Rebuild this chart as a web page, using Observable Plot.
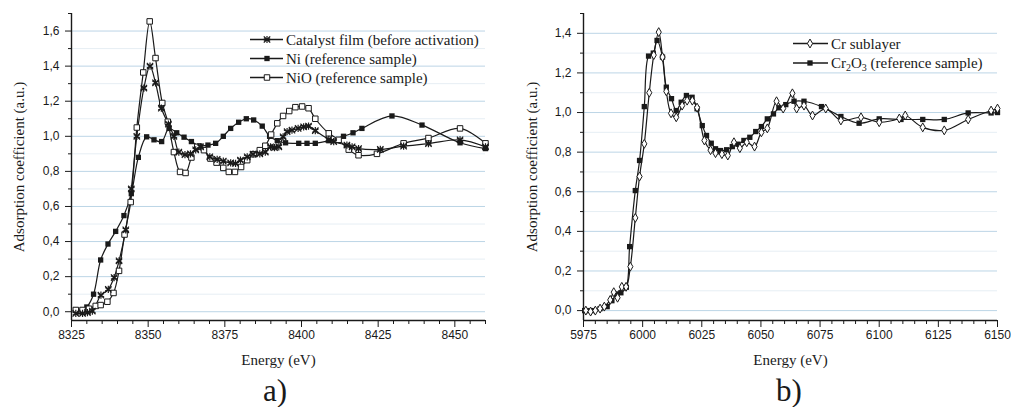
<!DOCTYPE html>
<html><head><meta charset="utf-8">
<script src="https://cdn.jsdelivr.net/npm/d3@7"></script>
<script src="https://cdn.jsdelivr.net/npm/@observablehq/plot@0.6"></script>
<style>
body{margin:0;background:#fff;}
#wrap{position:relative;width:1011px;height:407px;overflow:hidden;background:#fff;}
.panel{position:absolute;top:0;}
#overlay{position:absolute;left:0;top:0;pointer-events:none;}
</style></head><body><div id="wrap"><div id="pa" class="panel" style="left:0px"></div><div id="pb" class="panel" style="left:505px"></div></div>
<script>
// ---------- Panel a) Ni K-edge ----------
const catX = [8326.4, 8328.6, 8330.2, 8331.8, 8334.6, 8337.0, 8338.9, 8340.5, 8342.7, 8344.5, 8346.3, 8348.6, 8350.6, 8352.4, 8354.3, 8356.6, 8358.4, 8360.0, 8362.0, 8363.8, 8365.5, 8367.1, 8370.1, 8372.5, 8374.5, 8376.9, 8378.5, 8380.1, 8382.3, 8384.2, 8386.4, 8388.2, 8389.9, 8391.2, 8392.6, 8394.0, 8395.3, 8396.9, 8398.9, 8400.7, 8402.3, 8404.5, 8408.9, 8410.5, 8414.8, 8416.5, 8418.6, 8425.7, 8433.3, 8441.4, 8451.7, 8460];
const catY = [-0.01, -0.01, -0.005, 0.004, 0.094, 0.128, 0.195, 0.29, 0.467, 0.70, 1.0, 1.275, 1.40, 1.305, 1.16, 1.07, 1.0, 0.91, 0.895, 0.90, 0.923, 0.94, 0.883, 0.868, 0.858, 0.848, 0.845, 0.864, 0.883, 0.898, 0.90, 0.91, 0.94, 0.935, 0.94, 0.997, 1.026, 1.035, 1.045, 1.054, 1.058, 1.032, 0.982, 0.969, 0.95, 0.94, 0.93, 0.925, 0.944, 0.958, 0.98, 0.94];

const niX = [8326.4, 8328.6, 8330.0, 8332.2, 8334.5, 8336.9, 8339.4, 8342.1, 8344.5, 8346.8, 8349.5, 8351.9, 8354.4, 8356.8, 8359.3, 8361.7, 8364.1, 8366.9, 8369.5, 8372.0, 8374.5, 8376.9, 8379.5, 8382.0, 8384.4, 8387.2, 8389.6, 8392.1, 8394.8, 8399.1, 8401.8, 8404.5, 8408.9, 8413.7, 8416.8, 8419.7, 8429.5, 8439.3, 8451.7, 8460];
const niY = [0.01, 0.01, 0.027, 0.10, 0.295, 0.386, 0.458, 0.548, 0.673, 0.88, 0.997, 0.98, 0.97, 1.045, 1.02, 0.995, 0.97, 0.945, 0.95, 0.96, 1.0, 1.045, 1.08, 1.10, 1.093, 1.058, 1.0, 0.975, 0.963, 0.96, 0.96, 0.96, 0.975, 1.0, 1.02, 1.045, 1.116, 1.064, 0.963, 0.93];

const nioX = [8326.4, 8328.6, 8330.7, 8332.9, 8334.5, 8336.7, 8338.7, 8340.5, 8342.3, 8344.3, 8346.3, 8348.4, 8350.5, 8352.4, 8354.6, 8356.4, 8358.4, 8360.4, 8362.2, 8364.1, 8366.0, 8368.2, 8370.3, 8372.3, 8374.5, 8376.3, 8378.3, 8380.3, 8382.3, 8384.4, 8386.4, 8388.2, 8390.1, 8392.1, 8394.0, 8396.0, 8398.0, 8400.2, 8402.3, 8404.5, 8408.9, 8412.1, 8415.4, 8418.6, 8424.6, 8433.3, 8441.4, 8451.7, 8460];
const nioY = [0.01, 0.01, 0.017, 0.033, 0.038, 0.057, 0.107, 0.233, 0.44, 0.625, 1.05, 1.364, 1.655, 1.446, 1.19, 1.083, 0.91, 0.797, 0.791, 0.879, 0.94, 0.921, 0.873, 0.85, 0.82, 0.797, 0.797, 0.825, 0.864, 0.898, 0.921, 0.946, 1.01, 1.074, 1.116, 1.144, 1.166, 1.17, 1.16, 1.10, 1.017, 0.98, 0.924, 0.892, 0.90, 0.96, 0.99, 1.045, 0.96];

const xTicksA = [8325, 8350, 8375, 8400, 8425, 8450];
const xMinorA = [8330, 8335, 8340, 8345, 8355, 8360, 8365, 8370, 8380, 8385, 8390, 8395, 8405, 8410, 8415, 8420, 8430, 8435, 8440, 8445, 8455, 8460];
const yTicksA = [0.0, 0.2, 0.4, 0.6, 0.8, 1.0, 1.2, 1.4, 1.6];
const yMinorA = [0.1, 0.3, 0.5, 0.7, 0.9, 1.1, 1.3, 1.5, 1.7];
const seriesA = ["Catalyst film (before activation)", "Ni (reference sample)", "NiO (reference sample)"];

// ---------- Panel b) Cr K-edge ----------
const crX = [5976.0, 5978.0, 5980.0, 5982.0, 5983.8, 5986.3, 5987.8, 5989.4, 5991.2, 5993.0, 5994.8, 5996.9, 5998.7, 6000.7, 6002.8, 6004.7, 6006.8, 6008.4, 6010.0, 6012.0, 6014.2, 6016.7, 6018.8, 6021.0, 6023.0, 6026.1, 6028.7, 6030.8, 6033.5, 6036.0, 6038.6, 6041.1, 6044.0, 6047.3, 6050.2, 6052.7, 6056.6, 6059.4, 6063.3, 6065.1, 6068.2, 6071.8, 6077.4, 6083.8, 6092.3, 6100.0, 6108.5, 6111.0, 6118.4, 6127.5, 6137.6, 6147.3, 6150];
const crY = [0.0, -0.005, 0.0, 0.01, 0.02, 0.054, 0.093, 0.065, 0.12, 0.12, 0.222, 0.468, 0.677, 0.842, 1.10, 1.29, 1.406, 1.28, 1.107, 0.996, 0.976, 1.035, 1.06, 1.06, 1.025, 0.859, 0.81, 0.795, 0.79, 0.783, 0.85, 0.82, 0.85, 0.828, 0.90, 0.92, 1.057, 1.02, 1.097, 1.02, 1.035, 0.985, 1.02, 0.96, 0.976, 0.951, 0.97, 0.985, 0.925, 0.91, 0.965, 1.01, 1.02];

const cr2o3X = [5975.5, 5977.0, 5979.2, 5982.0, 5985.0, 5987.0, 5989.1, 5990.8, 5993.1, 5994.5, 5996.9, 5998.7, 6000.7, 6002.5, 6004.5, 6006.1, 6008.4, 6010.0, 6012.2, 6014.2, 6016.3, 6018.5, 6020.9, 6023.0, 6025.2, 6027.0, 6029.0, 6030.8, 6032.9, 6035.5, 6037.9, 6040.3, 6042.8, 6045.3, 6047.8, 6050.2, 6052.7, 6055.3, 6057.6, 6060.5, 6064.0, 6068.2, 6075.6, 6083.8, 6091.5, 6100.0, 6109.2, 6118.4, 6127.5, 6137.6, 6147.3, 6150];
const cr2o3Y = [0.0, 0.0, 0.0, 0.01, 0.02, 0.05, 0.084, 0.09, 0.118, 0.323, 0.606, 0.758, 1.03, 1.285, 1.30, 1.364, 1.28, 1.128, 1.07, 1.01, 1.052, 1.086, 1.077, 1.019, 0.934, 0.884, 0.845, 0.817, 0.808, 0.812, 0.828, 0.84, 0.859, 0.875, 0.904, 0.929, 0.968, 0.993, 1.024, 1.04, 1.057, 1.057, 1.03, 0.98, 0.946, 0.968, 0.965, 0.965, 0.965, 0.998, 0.998, 1.0];

const xTicksB = [5975, 6000, 6025, 6050, 6075, 6100, 6125, 6150];
const xMinorB = [5980, 5985, 5990, 5995, 6005, 6010, 6015, 6020, 6030, 6035, 6040, 6045, 6055, 6060, 6065, 6070, 6080, 6085, 6090, 6095, 6105, 6110, 6115, 6120, 6130, 6135, 6140, 6145];
const yTicksB = [0.0, 0.2, 0.4, 0.6, 0.8, 1.0, 1.2, 1.4];
const yMinorB = [0.1, 0.3, 0.5, 0.7, 0.9, 1.1, 1.3, 1.5];
const seriesB = ["Cr sublayer", "Cr2O3 (reference sample)"];

const yLabel = "Adsorption coefficient (a.u.)";
const xLabel = "Energy (eV)";

// ---------- helpers ----------
const zip = (xs, ys) => xs.map((x, i) => ({x, y: ys[i]}));
const fmtY = d => d.toFixed(1).replace(".", ",");
const INK = "#1a1a1a";
const serif = "Liberation Serif, Times New Roman, serif";

function frameMarks(xDom, yDom, xTicks, xMinor, yTicks, yMinor, labelDx) {
  return [
    Plot.ruleY(yMinor.filter(v => v < yDom[1] - 1e-6), {stroke: "#e6eef4", strokeWidth: 1}),
    Plot.ruleY(yTicks, {stroke: "#bcd5e6", strokeWidth: 1}),
    Plot.axisX({ticks: xMinor, tickSize: 4, tickFormat: () => "", label: null, stroke: INK}),
    Plot.axisX({ticks: xTicks, tickSize: 7, tickPadding: 3, tickFormat: d => String(d), label: null, stroke: INK, fill: INK}),
    Plot.axisY({ticks: yMinor, tickSize: 3, tickFormat: () => "", label: null, stroke: INK}),
    Plot.axisY({ticks: yTicks, tickSize: 6, tickPadding: 6, tickFormat: fmtY, label: null, stroke: INK, fill: INK}),
    Plot.ruleY([yDom[0]], {stroke: INK, strokeWidth: 1.4}),
    Plot.ruleX([xDom[0]], {stroke: INK, strokeWidth: 1.4}),
    Plot.text([yLabel], {text: d => d, frameAnchor: "left", textAnchor: "middle", lineAnchor: "middle", dx: labelDx, rotate: -90, fontFamily: serif, fontSize: 15, fill: INK}),
    Plot.text([xLabel], {text: d => d, frameAnchor: "bottom", textAnchor: "middle", lineAnchor: "middle", dy: 40, fontFamily: serif, fontSize: 15, fill: INK})
  ];
}

const line = (data) => Plot.line(data, {x: "x", y: "y", curve: "catmull-rom", stroke: INK, strokeWidth: 1.2});

// Panel a
const domAx = [8325, 8460], domAy = [-0.05, 1.7];
const dCat = zip(catX, catY), dNi = zip(niX, niY), dNiO = zip(nioX, nioY);
const plotA = Plot.plot({
  width: 500, height: 370,
  marginLeft: 71, marginRight: 15, marginTop: 13, marginBottom: 50,
  style: {fontFamily: "Liberation Sans, Arial, sans-serif", fontSize: "12px", color: INK, background: "transparent", overflow: "visible"},
  x: {domain: domAx},
  y: {domain: domAy},
  marks: [
    ...frameMarks(domAx, domAy, xTicksA, xMinorA, yTicksA, yMinorA, -52),
    line(dNi), line(dNiO), line(dCat),
    Plot.dot(dNi, {x: "x", y: "y", symbol: "square", r: 3.0, fill: INK, stroke: "none"}),
    Plot.dot(dNiO, {x: "x", y: "y", symbol: "square", r: 3.1, fill: "white", stroke: INK, strokeWidth: 1}),
    Plot.dot(dCat, {x: "x", y: "y", symbol: "asterisk", r: 3.4, fill: "none", stroke: INK, strokeWidth: 1.2}),
    Plot.dot(dCat, {x: "x", y: "y", symbol: "times", r: 3.0, fill: "none", stroke: INK, strokeWidth: 1.2})
  ]
});
document.getElementById("pa").append(plotA);

// Panel b
const domBx = [5975, 6150], domBy = [-0.05, 1.5];
const dCr = zip(crX, crY), dCr2 = zip(cr2o3X, cr2o3Y);
const plotB = Plot.plot({
  width: 506, height: 370,
  marginLeft: 78, marginRight: 14, marginTop: 13, marginBottom: 50,
  style: {fontFamily: "Liberation Sans, Arial, sans-serif", fontSize: "12px", color: INK, background: "transparent", overflow: "visible"},
  x: {domain: domBx},
  y: {domain: domBy},
  marks: [
    ...frameMarks(domBx, domBy, xTicksB, xMinorB, yTicksB, yMinorB, -51),
    line(dCr2), line(dCr),
    Plot.dot(dCr2, {x: "x", y: "y", symbol: "square", r: 3.0, fill: INK, stroke: "none"}),
    Plot.dot(dCr, {x: "x", y: "y", symbol: "diamond", r: 2.7, fill: "white", stroke: INK, strokeWidth: 1})
  ]
});
document.getElementById("pb").append(plotB);

// ---------- overlay: legends and captions ----------
const ov = d3.select("#wrap").append("svg").attr("id", "overlay").attr("width", 1011).attr("height", 407);
function legendRow(x0, x1, xm, y, symbols, label) {
  const g = ov.append("g");
  g.append("line").attr("x1", x0).attr("x2", x1).attr("y1", y).attr("y2", y).attr("stroke", INK).attr("stroke-width", 1.3);
  for (const s of symbols) {
    g.append("path").attr("d", d3.symbol(s.type, Math.PI * s.r * s.r)()).attr("transform", `translate(${xm},${y})`)
      .attr("fill", s.fill).attr("stroke", s.stroke).attr("stroke-width", s.sw);
  }
  const t = g.append("text").attr("x", x1 + 3).attr("y", y + 5).attr("font-family", serif).attr("font-size", 15).attr("fill", INK);
  label(t);
}
const simple = s => t => t.text(s);
const astSyms = [{type: d3.symbolAsterisk, r: 3.4, fill: "none", stroke: INK, sw: 1.2}, {type: d3.symbolTimes, r: 3.0, fill: "none", stroke: INK, sw: 1.2}];
legendRow(250, 283, 267, 39.5, astSyms, simple(seriesA[0]));
legendRow(250, 283, 267, 58.5, [{type: d3.symbolSquare, r: 3.0, fill: INK, stroke: "none", sw: 0}], simple(seriesA[1]));
legendRow(250, 283, 267, 77.5, [{type: d3.symbolSquare, r: 3.1, fill: "white", stroke: INK, sw: 1}], simple(seriesA[2]));
legendRow(793, 828, 810, 43.5, [{type: d3.symbolDiamond, r: 2.7, fill: "white", stroke: INK, sw: 1}], simple(seriesB[0]));
legendRow(793, 828, 810, 63, [{type: d3.symbolSquare, r: 3.0, fill: INK, stroke: "none", sw: 0}], t => {
  t.append("tspan").text("Cr");
  t.append("tspan").attr("font-size", 10).attr("dy", 3).text("2");
  t.append("tspan").attr("dy", -3).text("O");
  t.append("tspan").attr("font-size", 10).attr("dy", 3).text("3");
  t.append("tspan").attr("dy", -3).text(" (reference sample)");
});
ov.append("text").attr("x", 275).attr("y", 401).attr("text-anchor", "middle").attr("font-family", serif).attr("font-size", 31).attr("fill", INK).text("a)");
ov.append("text").attr("x", 789).attr("y", 401).attr("text-anchor", "middle").attr("font-family", serif).attr("font-size", 31).attr("fill", INK).text("b)");
</script></body></html>
